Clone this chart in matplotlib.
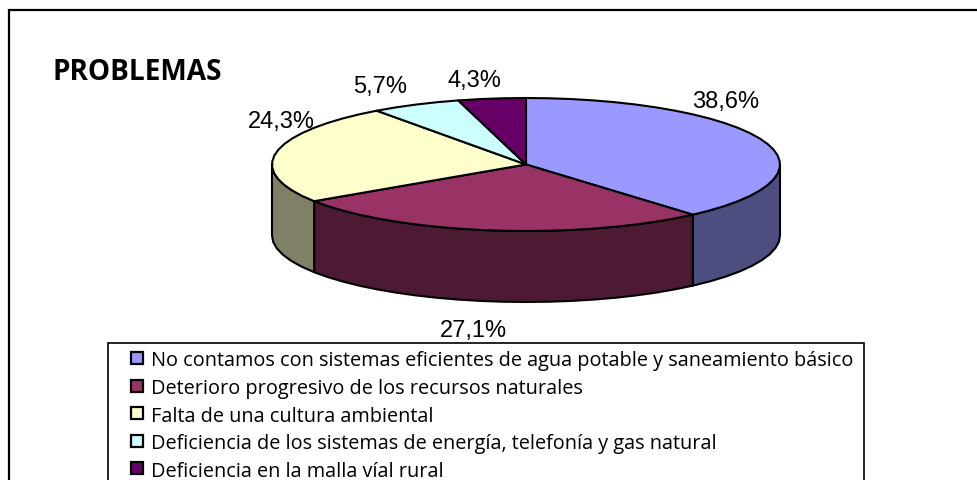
import numpy as np
import matplotlib
matplotlib.use('Agg')
import matplotlib.pyplot as plt
from matplotlib.patches import Rectangle

problemas = ['No contamos con sistemas eficientes de agua potable y saneamiento básico',
             'Deterioro progresivo de los recursos naturales',
             'Falta de una cultura ambiental',
             'Deficiencia de los sistemas de energía, telefonía y gas natural',
             'Deficiencia en la malla víal rural']
valores = [38.6, 27.1, 24.3, 5.7, 4.3]
etiquetas = ['38,6%', '27,1%', '24,3%', '5,7%', '4,3%']
colores = ['#9999FF', '#993366', '#FFFFCC', '#CCFFFF', '#660066']
oscuros = ['#4D4D80', '#4D1A33', '#808066', '#668080', '#330033']

# posicion de las etiquetas (pixeles)
pos_etq = [(726, 102), (473, 331), (281, 122), (380, 87), (474, 81)]

cx, cy = 526, 165.5
rx, ry = 254, 66.5
alto = 71

fig = plt.figure(figsize=(9.78, 4.81), dpi=100)
ax = fig.add_axes([0, 0, 1, 1])
ax.set_xlim(0, 978)
ax.set_ylim(481, 0)
ax.axis('off')


def borde(a, b):
    # angulos en grados, sentido horario desde las 12
    t = np.radians(np.linspace(a, b, max(int(abs(b - a) / 5), 2) + 1))
    return cx + rx * np.sin(t), cy - ry * np.cos(t)


# marco, se sale de la imagen por la derecha y por abajo
ax.add_patch(Rectangle((8.5, 11), 1000, 500, fc='white', ec='black', lw=1.6))

fin = np.cumsum(valores) * 3.6
ini = np.r_[0, fin[:-1]]

# paredes (solo la mitad de delante)
for a, b, c in zip(ini, fin, oscuros):
    a2, b2 = max(a, 90), min(b, 270)
    if a2 >= b2:
        continue
    x, y = borde(a2, b2)
    ax.fill(np.r_[x, x[::-1]], np.r_[y, y[::-1] + alto], fc=c, ec='black', lw=1.5, joinstyle='round')

# tapa
for a, b, c in zip(ini, fin, colores):
    x, y = borde(a, b)
    ax.fill(np.r_[cx, x], np.r_[cy, y], fc=c, ec='black', lw=1.5, joinstyle='round')

for (px, py), t in zip(pos_etq, etiquetas):
    ax.text(px, py, t, ha='center', va='center', fontsize=17, family='Liberation Sans', color='black')

ax.text(52.5, 73, 'PROBLEMAS', ha='left', va='center', fontsize=20.2, family='Open Sans', weight='bold', color='black')

# leyenda
ax.add_patch(Rectangle((108, 343.5), 755.5, 160, fc='white', ec='black', lw=1.2))
for i, (t, c) in enumerate(zip(problemas, colores)):
    yy = 359 + i * 27.6
    ax.add_patch(Rectangle((130.5, yy - 6), 12, 12, fc=c, ec='black', lw=1.6))
    ax.text(151, yy + 2.5, t, ha='left', va='center', fontsize=14.3, family='Open Sans', color='black')

fig.savefig('out.png', dpi=100)
